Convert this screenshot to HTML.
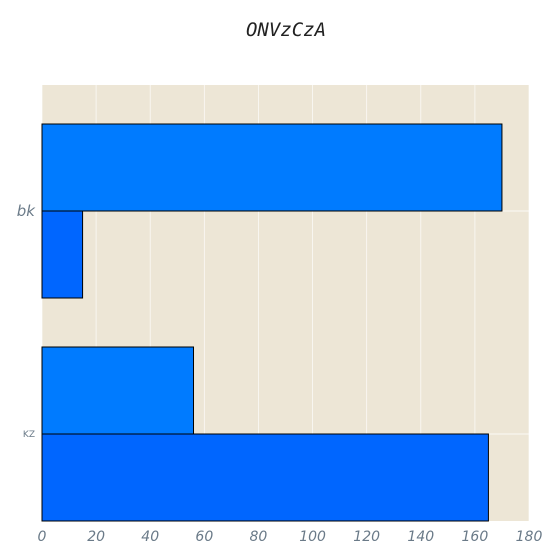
<!DOCTYPE html>
<html><head><meta charset="utf-8"><style>body{margin:0;background:#fff}svg{display:block}</style></head>
<body>
<svg id="c" width="560" height="560" xmlns="http://www.w3.org/2000/svg">
<text x="286" y="36" text-anchor="middle" font-family="DejaVu Sans Mono, monospace" font-style="italic" font-size="19" fill="#222">ONVzCzA</text>
<rect x="42" y="85" width="487" height="436" fill="#ede6d6"/>
<g id="grid"></g><g id="bars"></g><g id="ticks"></g>
</svg>
<script>
const categories = ["bk", "KZ"];
const series1 = [170, 56];
const series2 = [15, 165];
const xTicks = [0,20,40,60,80,100,120,140,160,180];
const L=42,R=529,T=85,B=521,xMax=180;
const NS="http://www.w3.org/2000/svg";
const xs=v=>L+(R-L)*v/xMax;
const step=223, barH=87, firstC=B-barH-step*(categories.length-1);
function mk(tag,attrs,parent,text){const e=document.createElementNS(NS,tag);for(const k in attrs)e.setAttribute(k,attrs[k]);if(text!==undefined)e.textContent=text;document.getElementById(parent).appendChild(e);return e;}
xTicks.forEach(t=>{
  const g=mk('line',{x1:xs(t),x2:xs(t),y1:T,y2:B,stroke:'#fff','stroke-width':0.8,opacity:0.8},'grid');
  
  
  const l=mk('text',{x:xs(t),y:541,'text-anchor':'middle','font-family':'DejaVu Sans, sans-serif','font-style':'italic','font-size':14,fill:'#6a7a88'},'ticks',t);
  
  
});
categories.forEach((c,i)=>{
  const cy=firstC+step*i;
  const gl=mk('line',{x1:L,x2:R,y1:cy,y2:cy,stroke:'#fff','stroke-width':0.8},'grid');
  
  
  const b1=mk('rect',{x:L,y:cy-barH,width:xs(series1[i])-L,height:barH,fill:'#007bff',stroke:'#000','stroke-width':1},'bars');
  
  
  const b2=mk('rect',{x:L,y:cy,width:xs(series2[i])-L,height:barH,fill:'#0066ff',stroke:'#000','stroke-width':1},'bars');
  
  
  const big=i===0;
  const l=mk('text',{x:35,y:cy+(big?5:3),'text-anchor':'end','font-family':'DejaVu Sans, sans-serif','font-style':big?'italic':'normal','font-size':big?15:9,fill:'#6a7a88'},'ticks',c);
  
  
});
</script>
</body></html>
